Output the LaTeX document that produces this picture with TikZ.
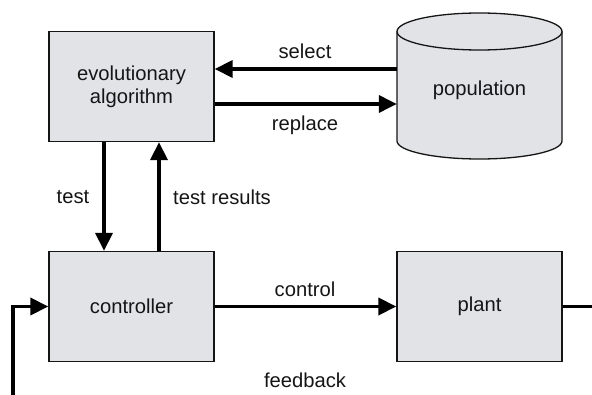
\documentclass[tikz,border=0pt]{standalone}
\usepackage{fontspec}
\setmainfont{Liberation Sans}
\usetikzlibrary{arrows.meta}
\definecolor{boxfill}{HTML}{E1E3E7}
\definecolor{ink}{HTML}{151515}
\tikzset{
  block/.style={draw=ink, line width=1.3pt, fill=boxfill, minimum width=165pt,
    minimum height=110pt, inner sep=0pt, align=center, text=ink,
    font=\fontsize{20.2}{23}\selectfont},
  flow/.style={draw=black, line width=3.5pt, -{Triangle[length=18pt,width=17pt]}},
  plainflow/.style={draw=black, line width=3.5pt},
  lbl/.style={text=ink, font=\fontsize{20.2}{23}\selectfont, inner sep=0pt}
}
\begin{document}
\begin{tikzpicture}[x=1pt,y=1pt]
  \useasboundingbox (0,0) rectangle (592,394);
  \clip (0,0) rectangle (592,394);

  % blocks
  \node[block] (ea) at (131.5,307.5) {evolutionary\\algorithm};
  \node[block] (ctrl) at (131.5,87.5) {controller};
  \node[block] (plant) at (479.5,87.5) {plant};

  % population store (cylinder)
  \fill[boxfill] (397,362.5) -- (397,253) arc[start angle=180,end angle=360,x radius=82.5pt,y radius=18pt]
    -- (562,362.5) arc[start angle=0,end angle=180,x radius=82.5pt,y radius=18.5pt] -- cycle;
  \draw[ink, line width=1.3pt] (397,362.5) -- (397,253) arc[start angle=180,end angle=360,x radius=82.5pt,y radius=18pt]
    -- (562,362.5);
  \draw[ink, line width=1.3pt] (479.5,362.5) ellipse[x radius=82.5pt, y radius=18.5pt];
  \node[minimum width=165pt, minimum height=109pt, inner sep=0pt] (pop) at (479.5,307.5) {};
  \node[lbl] (poptext) at (479.5,304) {population};

  % free ends of the loop
  \coordinate (out) at (600,87.5);
  \coordinate (fbbottom) at (13,-10);
  \coordinate (fbcorner) at (13,87.5);

  % connectors
  \draw[flow] (pop.west |- 0,325) -- (ea.east |- 0,325);
  \draw[flow] (ea.east |- 0,290) -- (pop.west |- 0,290);
  \draw[flow] (ea.south -| 104,0) -- (ctrl.north -| 104,0);
  \draw[flow] (ctrl.north -| 159,0) -- (ea.south -| 159,0);
  \draw[flow] (ctrl.east) -- (plant.west);
  \draw[plainflow] (plant.east) -- (out);
  \draw[flow] (fbbottom) -- (fbcorner) -- (ctrl.west);

  % labels
  \node[lbl] (lselect) at (305,343) {select};
  \node[lbl] (lreplace) at (305,269) {replace};
  \node[lbl] (ltest) at (73,197) {test};
  \node[lbl] (lresults) at (222,197) {test results};
  \node[lbl] (lcontrol) at (305,105) {control};
  \node[lbl] (lfeedback) at (305,14) {feedback};
\end{tikzpicture}
\end{document}
